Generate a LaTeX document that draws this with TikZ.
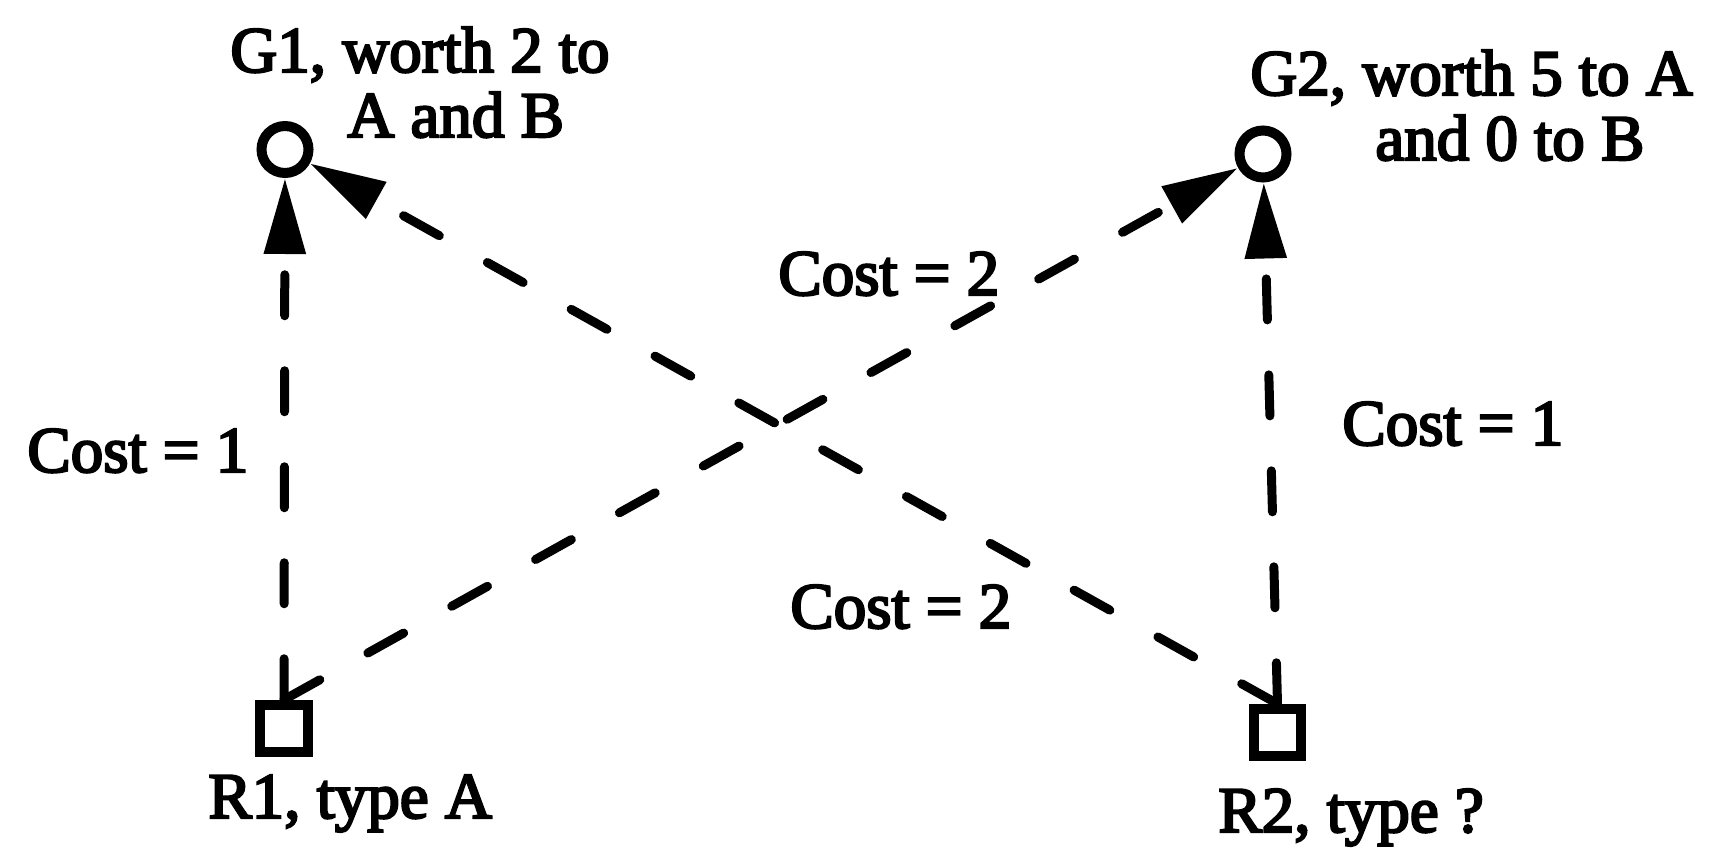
\documentclass[tikz,border=0pt]{standalone}
\usepackage{fontspec}
\setmainfont{Liberation Serif}[FakeBold=3.5]
\usetikzlibrary{arrows.meta}
\begin{document}
\begin{tikzpicture}[x=0.5pt,y=-0.5pt,
  goal/.style={circle,draw,line width=5pt,minimum size=23.5pt,inner sep=0pt},
  robot/.style={rectangle,draw,line width=5pt,minimum size=23.75pt,inner sep=0pt},
  link/.style={line width=4.5pt,line cap=round,dash pattern=on 20.5pt off 27.5pt,
    -{Triangle[length=38pt,width=20pt]}},
  lbl/.style={inner sep=0pt,anchor=base west,font=\fontsize{32.5}{32.5}\selectfont}]
\useasboundingbox (0,0) rectangle (1710,851);
\node[goal] (G1) at (285,149.5) {};
\node[goal] (G2) at (1263,154) {};
\node[robot] (R1) at (284,728.5) {};
\node[robot] (R2) at (1277.5,732.5) {};
\draw[link] (R1.north) -- (G1);
\draw[link] (R1.north) -- (G2);
\draw[link] (R2.north) -- (G2);
\draw[link] (R2.north) -- (G1);
\node[lbl] (L1) at (27,472) {Cost = 1};
\node[lbl] (L2) at (1342,445) {Cost = 1};
\node[lbl] (L3) at (778,295) {Cost = 2};
\node[lbl] (L4) at (790,628) {Cost = 2};
\node[lbl] (LR1) at (208,818) {R1, type A};
\node[lbl] (LR2) at (1218,832) {R2, type ?};
\node[lbl] (LG1) at (230,72) {\begin{tabular}[t]{@{}l@{}}G1, worth 2 to\\\hspace*{58.5pt}A and B\end{tabular}};
\node[lbl] (LG2) at (1250,95) {\begin{tabular}[t]{@{}l@{}}G2, worth 5 to A\\\hspace*{62.5pt}and 0 to B\end{tabular}};
\end{tikzpicture}
\end{document}
